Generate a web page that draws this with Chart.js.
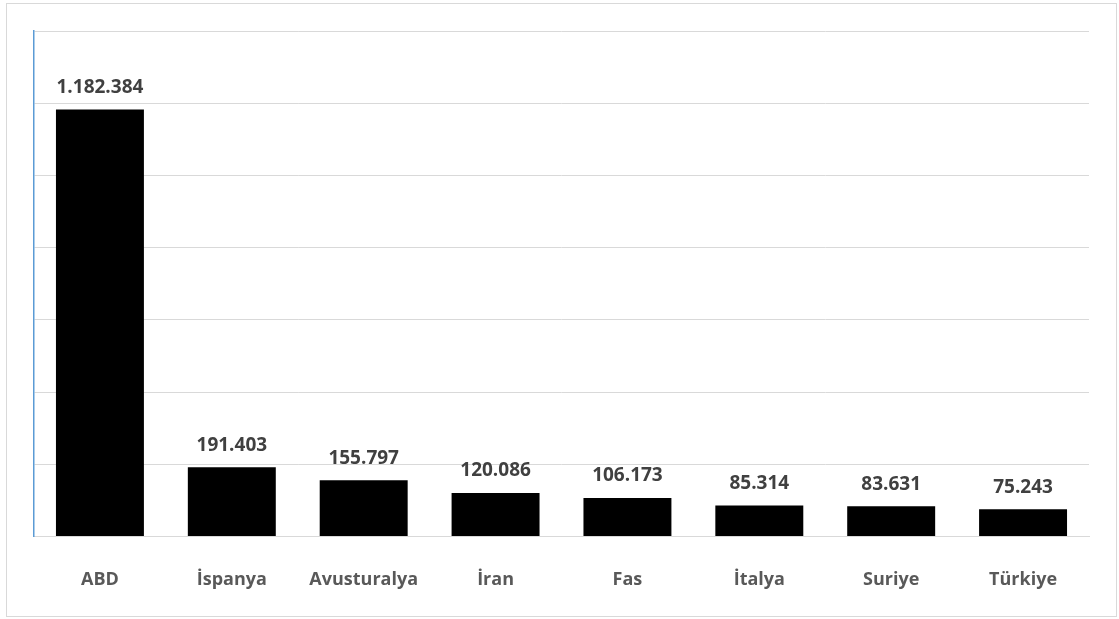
<!DOCTYPE html>
<html>
<head>
<meta charset="utf-8">
<script src="https://cdn.jsdelivr.net/npm/chart.js@4"></script>
<style>
  body { margin: 0; background: #fff; }
  #frame { position: absolute; left: 6px; top: 3px; width: 1109px; height: 612px; border: 1px solid #d9d9d9; }
  #wrap { position: absolute; left: 0; top: 0; width: 1119px; height: 619px; }
</style>
</head>
<body>
<div id="frame"></div>
<div id="wrap"><canvas id="chart"></canvas></div>
<script>
// countries and values
const countries = ["ABD", "İspanya", "Avusturalya", "İran", "Fas", "İtalya", "Suriye", "Türkiye"];
const values = [1182384, 191403, 155797, 120086, 106173, 85314, 83631, 75243];
const yMax = 1400000;
const yStep = 200000;

// Turkish thousands separator
function fmt(n) {
  return String(n).replace(/\B(?=(\d{3})+(?!\d))/g, ".");
}

// draw the numbers above the bars
const valueLabels = {
  id: "valueLabels",
  afterDatasetsDraw(chart) {
    const ctx = chart.ctx;
    const meta = chart.getDatasetMeta(0);
    ctx.save();
    ctx.font = "bold 19px 'Open Sans', sans-serif";
    ctx.fillStyle = "#404040";
    ctx.textAlign = "center";
    ctx.textBaseline = "middle";
    meta.data.forEach((bar, i) => {
      ctx.fillText(fmt(values[i]), bar.x, bar.y - 22);
    });
    ctx.restore();
  }
};

new Chart(document.getElementById("chart"), {
  type: "bar",
  data: {
    labels: countries,
    datasets: [
      {
        data: values,
        backgroundColor: "#000000",
        categoryPercentage: 0.667,
        barPercentage: 1,
      },
    ],
  },
  options: {
    responsive: true,
    maintainAspectRatio: false,
    animation: false,
    layout: { padding: { left: 34, right: 30, top: 31, bottom: 3 } },
    plugins: {
      legend: { display: false },
      tooltip: { enabled: false },
    },
    scales: {
      x: {
        grid: { display: false },
        border: { color: "#d9d9d9" },
        ticks: {
          color: "#595959",
          padding: 25,
          font: { family: "'Open Sans', sans-serif", size: 18, weight: "bold" },
        },
      },
      y: {
        min: 0,
        max: yMax,
        ticks: { display: false, stepSize: yStep },
        grid: { color: "#d9d9d9", drawTicks: false },
        border: { color: "#5b9bd5", width: 1.5 },
      },
    },
  },
  plugins: [valueLabels],
});
</script>
</body>
</html>
